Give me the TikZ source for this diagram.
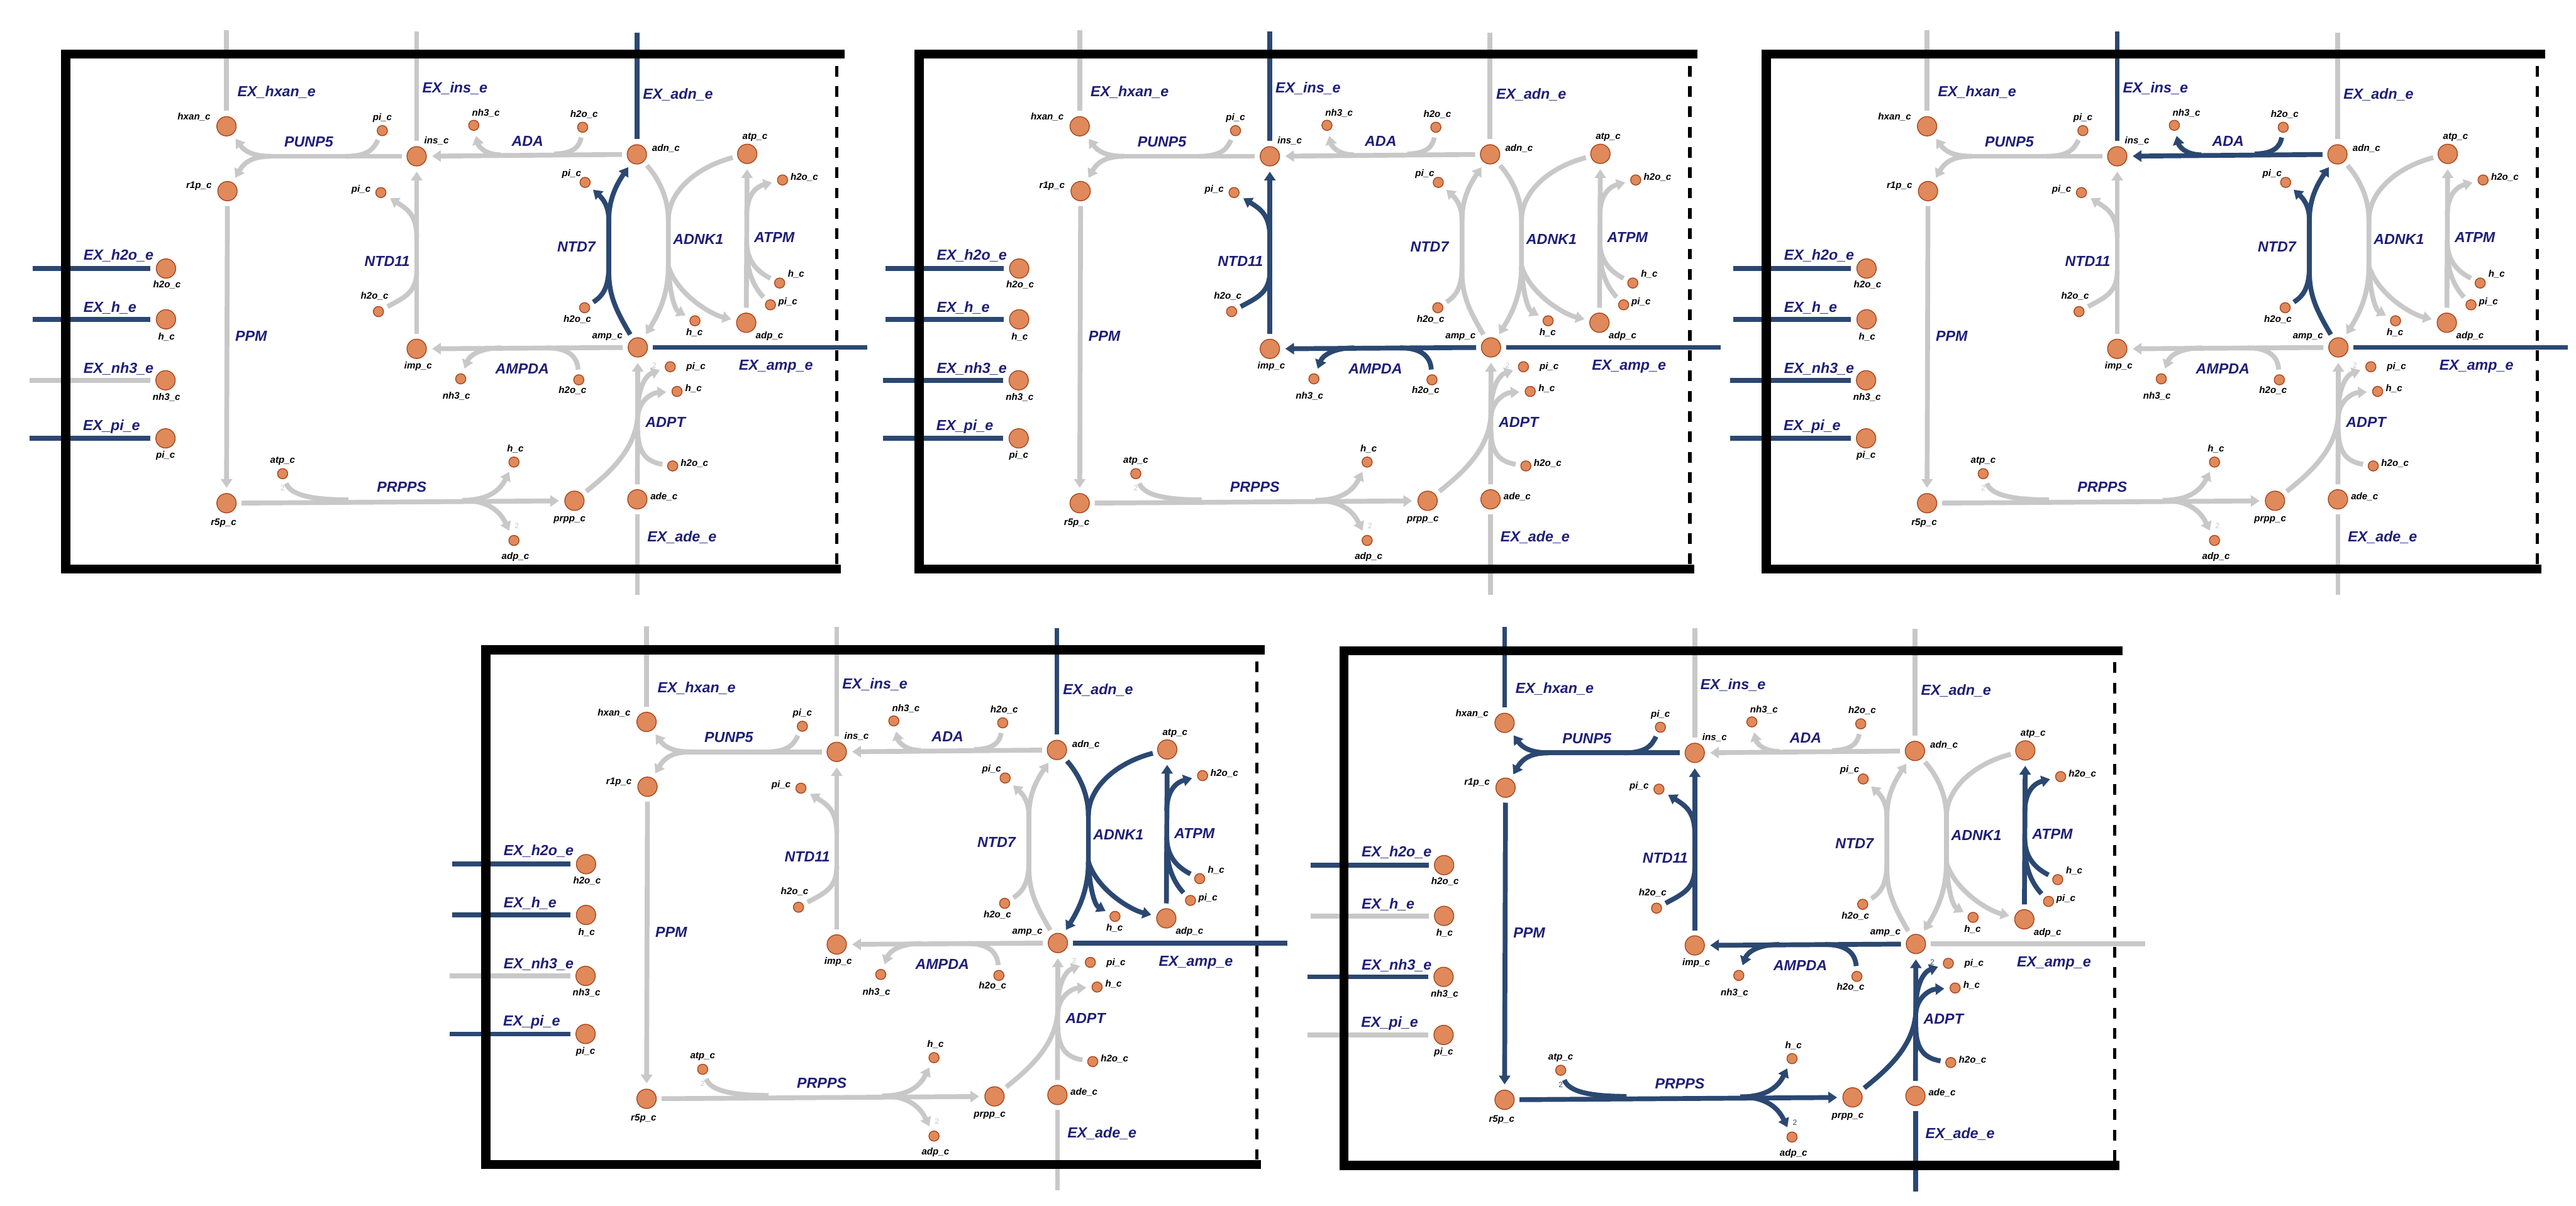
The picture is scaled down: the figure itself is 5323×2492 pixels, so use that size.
\documentclass[tikz,border=0pt]{standalone}
\usepackage{fontspec}
\setmainfont{Liberation Sans}
\usetikzlibrary{arrows.meta}
\definecolor{metfill}{HTML}{E0895B}
\definecolor{metedge}{HTML}{A8441A}
\definecolor{offc}{HTML}{C8C8C8}
\definecolor{onc}{HTML}{2B4872}
\definecolor{rxntext}{HTML}{1E1E78}

\tikzset{
  met/.style={circle, fill=metfill, draw=metedge, line width=0.5pt, inner sep=0pt},
  bigmet/.style={met, minimum size=4mm},
  smallmet/.style={met, minimum size=2.1mm},
  mlab/.style={font=\fontsize{5.6}{6}\selectfont\bfseries\itshape, inner sep=0pt},
  rlab/.style={font=\fontsize{8.6}{10}\selectfont\bfseries\itshape, text=rxntext, inner sep=0pt},
  exlab/.style={rlab, anchor=west},
  stoich/.style={font=\fontsize{4.5}{5}\selectfont, inner sep=0pt},
  rxn/.style={line width=1mm},
  gs/.style={shorten <=1mm},
  ge/.style={shorten >=1.1mm},
  wall/.style={line width=1.9mm, line join=miter},
  walldash/.style={line width=0.7mm, dash pattern=on 2.2mm off 2mm},
  act/.style={/tikz/#1/.style={color=onc}},
  % every reaction is grey unless a panel switches it on
  rPUNP5/.style={color=offc}, rADA/.style={color=offc},
  rNTD11/.style={color=offc}, rNTD7/.style={color=offc},
  rADNK1/.style={color=offc}, rATPM/.style={color=offc},
  rAMPDA/.style={color=offc}, rADPT/.style={color=offc},
  rPRPPS/.style={color=offc}, rPPM/.style={color=offc},
  rEXhxan/.style={color=offc}, rEXins/.style={color=offc},
  rEXadn/.style={color=offc}, rEXh2o/.style={color=offc},
  rEXh/.style={color=offc}, rEXnh3/.style={color=offc},
  rEXpi/.style={color=offc}, rEXamp/.style={color=offc},
  rEXade/.style={color=offc}
}

% one copy of the map, #1 = prefix for names
\newcommand{\metpanel}[1]{%
  % ── metabolites ──
  \node[bigmet] (#1hxan) at (468,261) {};
  \node[bigmet] (#1r1p) at (470,395) {};
  \node[bigmet] (#1ins) at (861,323) {};
  \node[bigmet] (#1adn) at (1316,319) {};
  \node[bigmet] (#1atp) at (1544,318) {};
  \node[bigmet] (#1imp) at (861,721) {};
  \node[bigmet] (#1amp) at (1318,718) {};
  \node[bigmet] (#1adp) at (1542,667) {};
  \node[bigmet] (#1r5p) at (468,1040) {};
  \node[bigmet] (#1prpp) at (1187,1035) {};
  \node[bigmet] (#1ade) at (1317,1032) {};
  \node[bigmet] (#1h2oE) at (343,555) {};
  \node[bigmet] (#1hE) at (343,660) {};
  \node[bigmet] (#1nh3E) at (342,786) {};
  \node[bigmet] (#1piE) at (342,906) {};
  \node[smallmet] (#1piP) at (790,270) {};
  \node[smallmet] (#1nh3A) at (979,259) {};
  \node[smallmet] (#1h2oA) at (1204,263) {};
  \node[smallmet] (#1piN) at (787,398) {};
  \node[smallmet] (#1h2oN) at (782,644) {};
  \node[smallmet] (#1piD) at (1209,377) {};
  \node[smallmet] (#1h2oD) at (1208,636) {};
  \node[smallmet] (#1h2oT) at (1617,372) {};
  \node[smallmet] (#1hT) at (1611,585) {};
  \node[smallmet] (#1piT) at (1592,630) {};
  \node[smallmet] (#1hK) at (1436,663) {};
  \node[smallmet] (#1nh3M) at (952,783) {};
  \node[smallmet] (#1h2oM) at (1196,785) {};
  \node[smallmet] (#1piY) at (1385,758) {};
  \node[smallmet] (#1hY) at (1399,809) {};
  \node[smallmet] (#1h2oY) at (1390,963) {};
  \node[smallmet] (#1atpS) at (584,979) {};
  \node[smallmet] (#1hS) at (1062,955) {};
  \node[smallmet] (#1adpS) at (1062,1117) {};
  % ── metabolite labels ──
  \node[mlab] (#1hxan-l) at (401,242) {hxan\_c};
  \node[mlab] (#1r1p-l) at (411,385) {r1p\_c};
  \node[mlab] (#1ins-l) at (902,291) {ins\_c};
  \node[mlab] (#1adn-l) at (1376,307) {adn\_c};
  \node[mlab] (#1atp-l) at (1560,284) {atp\_c};
  \node[mlab] (#1imp-l) at (864,757) {imp\_c};
  \node[mlab] (#1amp-l) at (1255,696) {amp\_c};
  \node[mlab] (#1adp-l) at (1590,695) {adp\_c};
  \node[mlab] (#1r5p-l) at (462,1081) {r5p\_c};
  \node[mlab] (#1prpp-l) at (1177,1075) {prpp\_c};
  \node[mlab] (#1ade-l) at (1372,1026) {ade\_c};
  \node[mlab] (#1h2oE-l) at (345,589) {h2o\_c};
  \node[mlab] (#1hE-l) at (344,696) {h\_c};
  \node[mlab] (#1nh3E-l) at (344,821) {nh3\_c};
  \node[mlab] (#1piE-l) at (342,942) {pi\_c};
  \node[mlab] (#1piP-l) at (790,244) {pi\_c};
  \node[mlab] (#1nh3A-l) at (1004,234) {nh3\_c};
  \node[mlab] (#1h2oA-l) at (1207,236) {h2o\_c};
  \node[mlab] (#1piN-l) at (746,392) {pi\_c};
  \node[mlab] (#1h2oN-l) at (774,612) {h2o\_c};
  \node[mlab] (#1piD-l) at (1181,359) {pi\_c};
  \node[mlab] (#1h2oD-l) at (1193,660) {h2o\_c};
  \node[mlab] (#1h2oT-l) at (1662,367) {h2o\_c};
  \node[mlab] (#1hT-l) at (1645,567) {h\_c};
  \node[mlab] (#1piT-l) at (1628,625) {pi\_c};
  \node[mlab] (#1hK-l) at (1435,687) {h\_c};
  \node[mlab] (#1nh3M-l) at (943,819) {nh3\_c};
  \node[mlab] (#1h2oM-l) at (1183,807) {h2o\_c};
  \node[mlab] (#1piY-l) at (1438,759) {pi\_c};
  \node[mlab] (#1hY-l) at (1433,803) {h\_c};
  \node[mlab] (#1h2oY-l) at (1435,958) {h2o\_c};
  \node[mlab] (#1atpS-l) at (584,953) {atp\_c};
  \node[mlab] (#1hS-l) at (1065,928) {h\_c};
  \node[mlab] (#1adpS-l) at (1065,1151) {adp\_c};
  % ── reaction labels ──
  \node[rlab] (#1PUNP5) at (638,293) {PUNP5};
  \node[rlab] (#1ADA) at (1090,292) {ADA};
  \node[rlab] (#1NTD11) at (800,540) {NTD11};
  \node[rlab] (#1NTD7) at (1191,510) {NTD7};
  \node[rlab] (#1ADNK1) at (1443,494) {ADNK1};
  \node[rlab] (#1ATPM) at (1600,491) {ATPM};
  \node[rlab] (#1PPM) at (519,695) {PPM};
  \node[rlab] (#1AMPDA) at (1079,762) {AMPDA};
  \node[rlab] (#1ADPT) at (1375,873) {ADPT};
  \node[rlab] (#1PRPPS) at (830,1007) {PRPPS};
  \node[exlab] (#1EXhxan) at (490,191) {EX\_hxan\_e};
  \node[exlab] (#1EXins) at (872,183) {EX\_ins\_e};
  \node[exlab] (#1EXadn) at (1328,195) {EX\_adn\_e};
  \node[exlab] (#1EXh2o) at (172,528) {EX\_h2o\_e};
  \node[exlab] (#1EXh) at (172,636) {EX\_h\_e};
  \node[exlab] (#1EXnh3) at (172,762) {EX\_nh3\_e};
  \node[exlab] (#1EXpi) at (171,882) {EX\_pi\_e};
  \node[exlab] (#1EXamp) at (1526,758) {EX\_amp\_e};
  \node[exlab] (#1EXade) at (1337,1111) {EX\_ade\_e};
  % ── PUNP5 ──
  \draw[rxn,rPUNP5,gs] (#1ins) -- (545,323);
  \draw[rxn,rPUNP5,->,ge] (560,323) .. controls (522,323) and (505,312) .. (#1hxan);
  \draw[rxn,rPUNP5,->,ge] (560,323) .. controls (522,323) and (505,335) .. (#1r1p);
  \draw[rxn,rPUNP5,gs] (#1piP) .. controls (772,308) and (760,323) .. (715,323);
  % ── ADA ──
  \draw[rxn,rADA,->,gs,ge] (#1adn) -- (#1ins);
  \draw[rxn,rADA,->,ge] (1035,320) .. controls (1000,320) and (988,300) .. (#1nh3A);
  \draw[rxn,rADA,gs] (#1h2oA) .. controls (1198,302) and (1185,318) .. (1145,318);
  % ── NTD11 ──
  \draw[rxn,rNTD11,->,gs,ge] (#1imp) -- (#1ins);
  \draw[rxn,rNTD11,->,ge] (861,490) .. controls (861,445) and (842,432) .. (#1piN);
  \draw[rxn,rNTD11,gs] (#1h2oN) .. controls (835,615) and (861,605) .. (861,560);
  % ── NTD7 ──
  \draw[rxn,rNTD7,gs] (#1amp) .. controls (1272,640) and (1258,610) .. (1258,560) -- (1258,445);
  \draw[rxn,rNTD7,->,ge] (1258,455) .. controls (1258,410) and (1275,380) .. (#1adn);
  \draw[rxn,rNTD7,->,ge] (1258,455) .. controls (1258,425) and (1245,410) .. (#1piD);
  \draw[rxn,rNTD7,gs] (#1h2oD) .. controls (1245,612) and (1258,595) .. (1258,550);
  % ── ADNK1 ──
  \draw[rxn,rADNK1,gs] (#1adn) .. controls (1362,370) and (1381,410) .. (1381,455) -- (1381,560);
  \draw[rxn,rADNK1,gs] (#1atp) .. controls (1440,345) and (1381,395) .. (1381,455);
  \draw[rxn,rADNK1,->,ge] (1381,550) .. controls (1381,610) and (1360,650) .. (#1amp);
  \draw[rxn,rADNK1,->,ge] (1381,550) .. controls (1384,610) and (1395,640) .. (#1hK);
  \draw[rxn,rADNK1,->,ge] (1381,550) .. controls (1400,610) and (1470,650) .. (#1adp);
  % ── ATPM ──
  \draw[rxn,rATPM,->,gs,ge] (#1adp) -- (#1atp);
  \draw[rxn,rATPM,->,ge] (1543,445) .. controls (1543,400) and (1565,385) .. (#1h2oT);
  \draw[rxn,rATPM,gs] (#1hT) .. controls (1572,565) and (1543,545) .. (1543,500);
  \draw[rxn,rATPM,gs] (#1piT) .. controls (1560,595) and (1543,565) .. (1543,515);
  % ── AMPDA ──
  \draw[rxn,rAMPDA,->,gs,ge] (#1amp) -- (#1imp);
  \draw[rxn,rAMPDA,->,ge] (1035,719) .. controls (992,719) and (970,735) .. (#1nh3M);
  \draw[rxn,rAMPDA,gs] (#1h2oM) .. controls (1193,740) and (1178,719) .. (1130,719);
  % ── ADPT ──
  \draw[rxn,rADPT,->,gs,ge] (#1ade) -- (#1amp);
  \draw[rxn,rADPT,->,ge] (1318,850) .. controls (1318,800) and (1335,775) .. (#1piY);
  \draw[rxn,rADPT,->,ge] (1318,860) .. controls (1320,830) and (1345,812) .. (#1hY);
  \draw[rxn,rADPT,gs] (#1h2oY) .. controls (1340,955) and (1318,940) .. (1318,890);
  \draw[rxn,rADPT,gs] (#1prpp) .. controls (1262,975) and (1318,925) .. (1318,850);
  \node[stoich,rADPT] (#1ADPT-n) at (1352,755) {2};
  % ── PRPPS ──
  \draw[rxn,rPRPPS,->,gs,ge] (#1r5p) -- (#1prpp);
  \draw[rxn,rPRPPS,gs] (#1atpS) .. controls (600,1022) and (640,1033) .. (720,1033);
  \draw[rxn,rPRPPS,->,ge] (955,1034) .. controls (1000,1034) and (1030,1020) .. (#1hS);
  \draw[rxn,rPRPPS,->,ge] (955,1034) .. controls (1000,1034) and (1030,1050) .. (#1adpS);
  \node[stoich,rPRPPS] (#1PRPPS-n1) at (584,1009) {2};
  \node[stoich,rPRPPS] (#1PRPPS-n2) at (1068,1087) {2};
  % ── PPM ──
  \draw[rxn,rPPM,->,gs,ge] (#1r1p) -- (#1r5p);
  % ── exchanges ──
  \draw[rxn,rEXhxan,ge] (468,63) -- (#1hxan);
  \draw[rxn,rEXins,ge] (861,65) -- (#1ins);
  \draw[rxn,rEXadn,ge] (1316,67) -- (#1adn);
  \draw[rxn,rEXh2o,ge] (67,555) -- (#1h2oE);
  \draw[rxn,rEXh,ge] (67,660) -- (#1hE);
  \draw[rxn,rEXnh3,ge] (61,786) -- (#1nh3E);
  \draw[rxn,rEXpi,ge] (61,906) -- (#1piE);
  \draw[rxn,rEXamp,gs] (#1amp) -- (1792,718);
  \draw[rxn,rEXade,gs] (#1ade) -- (1317,1229);
  % ── compartment ──
  \draw[wall] (1745,112) -- (136,112) -- (136,1176) -- (1738,1176);
  \draw[walldash] (1729,136) -- (1729,1166);
}

\begin{document}
\begin{tikzpicture}[
  x=0.1mm, y=-0.1mm,
  >={Triangle[length=1.8mm, width=2.3mm]}
]
\useasboundingbox (0,0) rectangle (5323,2492);

\begin{scope}[act/.list={rEXadn,rNTD7,rEXh2o,rEXh,rEXpi,rEXamp}]
  \metpanel{a}
\end{scope}

\begin{scope}[shift={(1763,0)},
  act/.list={rEXins,rNTD11,rAMPDA,rEXamp,rEXh2o,rEXh,rEXnh3,rEXpi}]
  \metpanel{b}
\end{scope}

\begin{scope}[shift={(3514,0)},
  act/.list={rEXins,rADA,rNTD7,rEXamp,rEXh2o,rEXh,rEXnh3,rEXpi}]
  \metpanel{c}
\end{scope}

\begin{scope}[shift={(868,1231)},
  act/.list={rEXadn,rADNK1,rATPM,rEXamp,rEXh2o,rEXh,rEXpi}]
  \metpanel{d}
\end{scope}

\begin{scope}[shift={(2641,1233)},
  act/.list={rEXhxan,rPUNP5,rPPM,rPRPPS,rADPT,rEXade,rNTD11,rAMPDA,rATPM,rEXh2o,rEXnh3}]
  \metpanel{e}
\end{scope}

\end{tikzpicture}
\end{document}
